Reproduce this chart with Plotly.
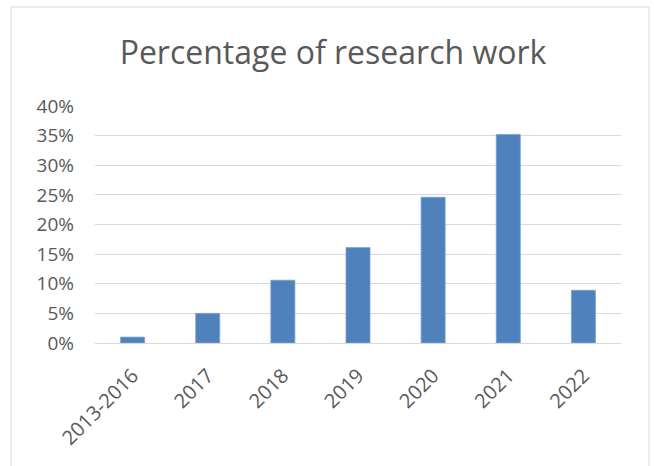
import plotly.graph_objects as go

categories = ["2013-2016", "2017", "2018", "2019", "2020", "2021", "2022"]
values = [1.0, 5.0, 10.6, 16.1, 24.6, 35.2, 8.9]
y_ticks = [0, 5, 10, 15, 20, 25, 30, 35, 40]
y_tick_labels = [f"{v}%" for v in y_ticks]

W, H = 654, 466
L, R, T, B = 95, 33, 106, 123
pw, ph = W - L - R, H - T - B

fig = go.Figure(go.Bar(
    x=categories, y=values,
    marker=dict(color="#4f81bd", line=dict(color="#7ea1d1", width=0.8)),
))

def px_x(x):
    return (x - L) / pw

def px_y(y):
    return (H - B - y) / ph

fig.add_shape(type="rect", xref="paper", yref="paper",
              x0=px_x(11), x1=px_x(649), y0=px_y(475), y1=px_y(7),
              line=dict(color="#d9d9d9", width=1), fillcolor="rgba(0,0,0,0)", layer="below")

fig.update_layout(
    width=W, height=H,
    margin=dict(l=L, r=R, t=T, b=B),
    paper_bgcolor="white", plot_bgcolor="white",
    title=dict(text="Percentage of research work", x=333 / W, xanchor="center",
               y=1 - 53 / H, yanchor="middle",
               font=dict(family="Open Sans", size=32, color="#595959")),
    bargap=0.68,
    showlegend=False,
    font=dict(family="Open Sans", color="#595959"),
    xaxis=dict(tickangle=-45, tickfont=dict(size=20, color="#595959"),
               showline=False, showgrid=False, ticks="", ticklabelstandoff=16),
    yaxis=dict(range=[0, 40], tickmode="array", tickvals=y_ticks, ticktext=y_tick_labels,
               tickfont=dict(size=19, color="#595959"),
               showgrid=True, gridcolor="#d9d9d9", gridwidth=1,
               zeroline=True, zerolinecolor="#d9d9d9", zerolinewidth=1,
               showline=False, ticks="", ticklabelstandoff=20),
)

fig.write_html("out.html")
